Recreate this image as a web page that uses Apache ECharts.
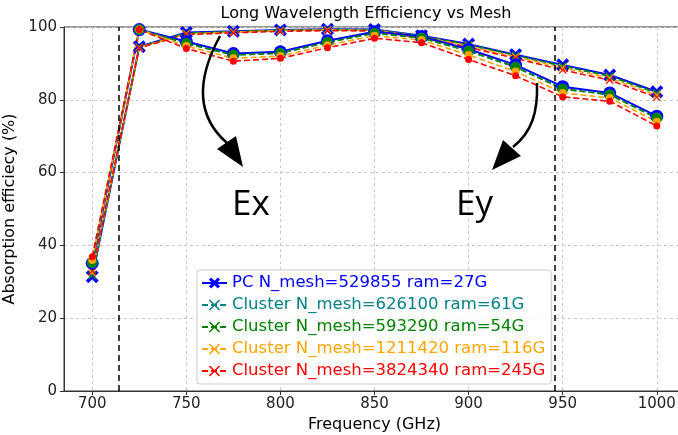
<!DOCTYPE html>
<html>
<head>
<meta charset="utf-8">
<title>Long Wavelength Efficiency vs Mesh</title>
<script src="https://cdn.jsdelivr.net/npm/echarts@6.0.0/dist/echarts.min.js"></script>
<style>
	html, body { margin: 0; padding: 0; background: #fff; }
	#chart { width: 678px; height: 435px; }
</style>
</head>
<body>
<div id="chart"></div>
<script>
// frequencies (GHz)
var freqArr = [700, 725, 750, 775, 800, 825, 850, 875, 900, 925, 950, 975, 1000];
var xTickArr = [700, 750, 800, 850, 900, 950, 1000];
var yTickArr = [0, 20, 40, 60, 80, 100];
var vlineArr = [714, 946];

var legendArr = [
	'PC N_mesh=529855 ram=27G',
	'Cluster N_mesh=626100 ram=61G',
	'Cluster N_mesh=593290 ram=54G',
	'Cluster N_mesh=1211420 ram=116G',
	'Cluster N_mesh=3824340 ram=245G'
];
var colorArr = ['#0000ff', '#008080', '#008000', '#ffa500', '#ff0000'];

// Ex polarisation (x markers)
var exPc    = [31.4, 94.6, 98.5, 98.8, 99.2, 99.4, 99.3, 97.6, 95.3, 92.4, 89.6, 86.8, 82.2];
var exC626  = [31.8, 94.5, 98.3, 98.7, 99.1, 99.3, 99.2, 97.5, 95.1, 92.2, 89.3, 86.5, 81.9];
var exC593  = [31.8, 94.5, 98.3, 98.7, 99.1, 99.3, 99.2, 97.5, 95.1, 92.2, 89.3, 86.5, 81.9];
var exC1211 = [32.5, 94.4, 98.1, 98.6, 99.0, 99.2, 99.1, 97.3, 94.8, 91.8, 88.8, 86.0, 81.3];
var exC3824 = [33.0, 94.3, 97.9, 98.4, 98.8, 99.0, 98.9, 97.0, 94.4, 91.4, 88.2, 85.4, 80.7];

// Ey polarisation (circle markers)
var eyPc    = [35.1, 99.3, 96.0, 92.7, 93.2, 96.2, 98.7, 97.4, 93.9, 89.6, 83.6, 81.9, 75.5];
var eyC626  = [35.3, 99.3, 95.5, 92.3, 92.8, 95.8, 98.3, 97.0, 93.4, 89.0, 83.0, 81.4, 75.0];
var eyC593  = [35.3, 99.3, 95.5, 92.3, 92.8, 95.8, 98.3, 97.0, 93.4, 89.0, 83.0, 81.4, 75.0];
var eyC1211 = [36.0, 99.3, 94.8, 91.4, 92.0, 95.0, 97.6, 96.4, 92.3, 87.8, 81.9, 80.5, 74.0];
var eyC3824 = [36.9, 99.3, 94.1, 90.6, 91.4, 94.3, 96.9, 95.7, 91.1, 86.6, 80.8, 79.6, 72.8];

var exArr = [exPc, exC626, exC593, exC1211, exC3824];
var eyArr = [eyPc, eyC626, eyC593, eyC1211, eyC3824];

var BIG_X = 'path://M2,0 L5,3 L8,0 L10,2 L7,5 L10,8 L8,10 L5,7 L2,10 L0,8 L3,5 L0,2 Z';
var THIN_X = 'path://M1,0 L5,4 L9,0 L10,1 L6,5 L10,9 L9,10 L5,6 L1,10 L0,9 L4,5 L0,1 Z';
var FONT = 'DejaVu Sans';

function toPairs(vals){
	var out = [];
	for(var i=0;i<freqArr.length;i++){
		out.push([freqArr[i], vals[i]]);
	}
	return out;
}

function makeLine(name, vals, color, symbol, size, solid){
	return {
		name: name,
		type: 'line',
		data: toPairs(vals),
		symbol: symbol,
		symbolSize: size,
		showAllSymbol: true,
		itemStyle: { color: color },
		lineStyle: { color: color, width: solid ? 2 : 1.6, type: solid ? 'solid' : [6, 3] },
		emphasis: { disabled: true },
		animation: false
	};
}

var seriesArr = [];
var eySize = [13, 11, 10, 8, 7];
for(var i=0;i<legendArr.length;i++){
	seriesArr.push(makeLine(legendArr[i], exArr[i], colorArr[i], i == 0 ? BIG_X : THIN_X, i == 0 ? 13 : 8, i == 0));
}
for(var j=0;j<legendArr.length;j++){
	seriesArr.push(makeLine('Ey ' + legendArr[j], eyArr[j], colorArr[j], 'circle', eySize[j], j == 0));
}

// the two dashed vertical lines
seriesArr[0].markLine = {
	silent: true,
	symbol: 'none',
	label: { show: false },
	lineStyle: { color: '#000', type: [6, 4], width: 1.5 },
	data: vlineArr.map(function(v){ return { xAxis: v }; }),
	animation: false
};

var legendData = [];
for(var k=0;k<legendArr.length;k++){
	legendData.push({ name: legendArr[k], textStyle: { color: colorArr[k] } });
}

var myCharts = echarts.init(document.getElementById('chart'));
var option = {
	animation: false,
	textStyle: { fontFamily: FONT },
	grid: {
		left: 64, top: 27, width: 621, height: 364,
		outerBoundsMode: 'none',
		show: true, borderColor: '#333', borderWidth: 1, backgroundColor: 'transparent'
	},
	legend: {
		data: legendData,
		orient: 'vertical',
		left: 197,
		top: 270,
		padding: [4, 6, 4, 4],
		itemGap: 4,
		itemWidth: 25,
		itemHeight: 14,
		backgroundColor: 'rgba(255,255,255,0.85)',
		borderColor: '#ccc',
		borderWidth: 1,
		borderRadius: 3,
		selectedMode: false,
		textStyle: { fontFamily: FONT, fontSize: 16.5, lineHeight: 18 }
	},
	xAxis: {
		type: 'value',
		min: 685,
		max: 1015,
		name: 'Frequency (GHz)',
		nameLocation: 'middle',
		nameGap: 25,
		nameTextStyle: { fontFamily: FONT, fontSize: 16, color: '#000' },
		axisLine: { lineStyle: { color: '#333', width: 1 } },
		axisTick: { customValues: xTickArr, length: 4, lineStyle: { color: '#333' } },
		axisLabel: {
			customValues: xTickArr, fontFamily: FONT, fontSize: 15, color: '#222', margin: 6,
			formatter: function(v){ return String(v); }
		},
		splitLine: { show: true, lineStyle: { color: '#c8c8c8', type: [3, 3], width: 1 } }
	},
	yAxis: {
		type: 'value',
		min: 0,
		max: 100,
		interval: 20,
		name: 'Absorption efficiecy (%)',
		nameLocation: 'middle',
		nameGap: 44,
		nameTextStyle: { fontFamily: FONT, fontSize: 16, color: '#000' },
		axisLine: { show: true, lineStyle: { color: '#333', width: 1 } },
		axisTick: { show: true, length: 4, lineStyle: { color: '#333' } },
		axisLabel: { fontFamily: FONT, fontSize: 15, color: '#222', margin: 7 },
		splitLine: { show: true, lineStyle: { color: '#c8c8c8', type: [3, 3], width: 1 } }
	},
	graphic: [
		{ type: 'text', silent: true, z: 100, x: 366, y: 14,
			style: { text: 'Long Wavelength Efficiency vs Mesh', font: '16px "DejaVu Sans"', fill: '#000',
				align: 'center', verticalAlign: 'middle' } },
		{ type: 'bezierCurve', silent: true, z: 100,
			shape: { x1: 220, y1: 36, cpx1: 196, cpy1: 80, cpx2: 196, cpy2: 116, x2: 227, y2: 143 },
			style: { stroke: '#000', lineWidth: 2.5, fill: null } },
		{ type: 'polygon', silent: true, z: 100,
			shape: { points: [[243, 167], [217, 149], [236, 136]] },
			style: { fill: '#000' } },
		{ type: 'bezierCurve', silent: true, z: 100,
			shape: { x1: 537, y1: 83, cpx1: 538, cpy1: 112, cpx2: 532, cpy2: 132, x2: 513, y2: 147 },
			style: { stroke: '#000', lineWidth: 2.5, fill: null } },
		{ type: 'polygon', silent: true, z: 100,
			shape: { points: [[492, 170], [503, 140], [521, 156]] },
			style: { fill: '#000' } },
		{ type: 'text', silent: true, z: 100, x: 232, y: 205,
			style: { text: 'Ex', font: '35px "Open Sans"', fill: '#000', verticalAlign: 'middle' } },
		{ type: 'text', silent: true, z: 100, x: 456, y: 205,
			style: { text: 'Ey', font: '35px "Open Sans"', fill: '#000', verticalAlign: 'middle' } }
	],
	series: seriesArr
};
myCharts.setOption(option);
</script>
</body>
</html>
